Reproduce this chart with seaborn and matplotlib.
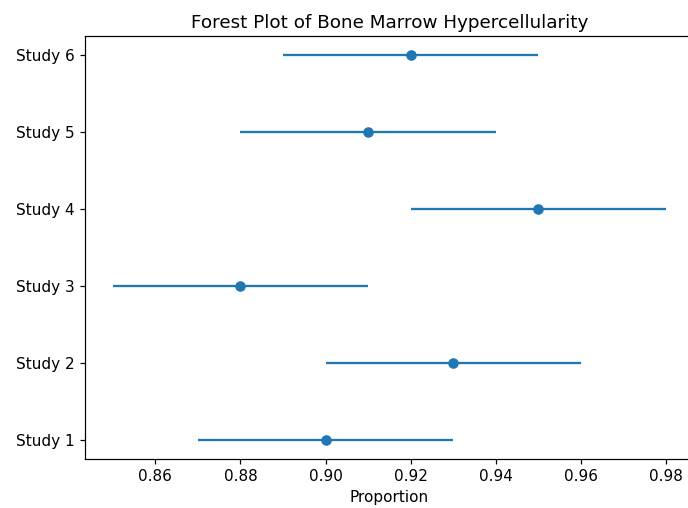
import matplotlib
matplotlib.use("Agg")
import matplotlib.pyplot as plt
import numpy as np
import seaborn as sns

studies = ["Study 1", "Study 2", "Study 3", "Study 4", "Study 5", "Study 6"]
proportion = [0.90, 0.93, 0.88, 0.95, 0.91, 0.92]
ci_lower = [0.87, 0.90, 0.85, 0.92, 0.88, 0.89]
ci_upper = [0.93, 0.96, 0.91, 0.98, 0.94, 0.95]

if __name__ == "__main__":
    # original looks rendered ~1.1x the default scale
    s = 1.1
    plt.rcParams.update({
        "font.size": 10 * s,
        "axes.titlesize": 12 * s,
        "lines.linewidth": 1.5 * s,
        "lines.markersize": 6 * s,
        "axes.linewidth": 0.8 * s,
        "xtick.major.size": 3.5 * s,
        "ytick.major.size": 3.5 * s,
        "xtick.major.width": 0.8 * s,
        "ytick.major.width": 0.8 * s,
    })

    fig = plt.figure(figsize=(6.88, 5.08), dpi=100)
    # axes run slightly past the right edge, like the cropped original
    ax = fig.add_axes([0.1235, 0.0965, 0.885, 0.8325])

    est = np.array(proportion)
    err = [est - np.array(ci_lower), np.array(ci_upper) - est]
    ypos = np.arange(len(studies))
    ax.errorbar(est, ypos, xerr=err, fmt="o", color=sns.color_palette()[0])

    ax.set_yticks(ypos)
    ax.set_yticklabels(studies)
    ax.set_xlabel("Proportion")
    ax.set_title("Forest Plot of Bone Marrow Hypercellularity")

    fig.savefig("out.png", dpi=100)
